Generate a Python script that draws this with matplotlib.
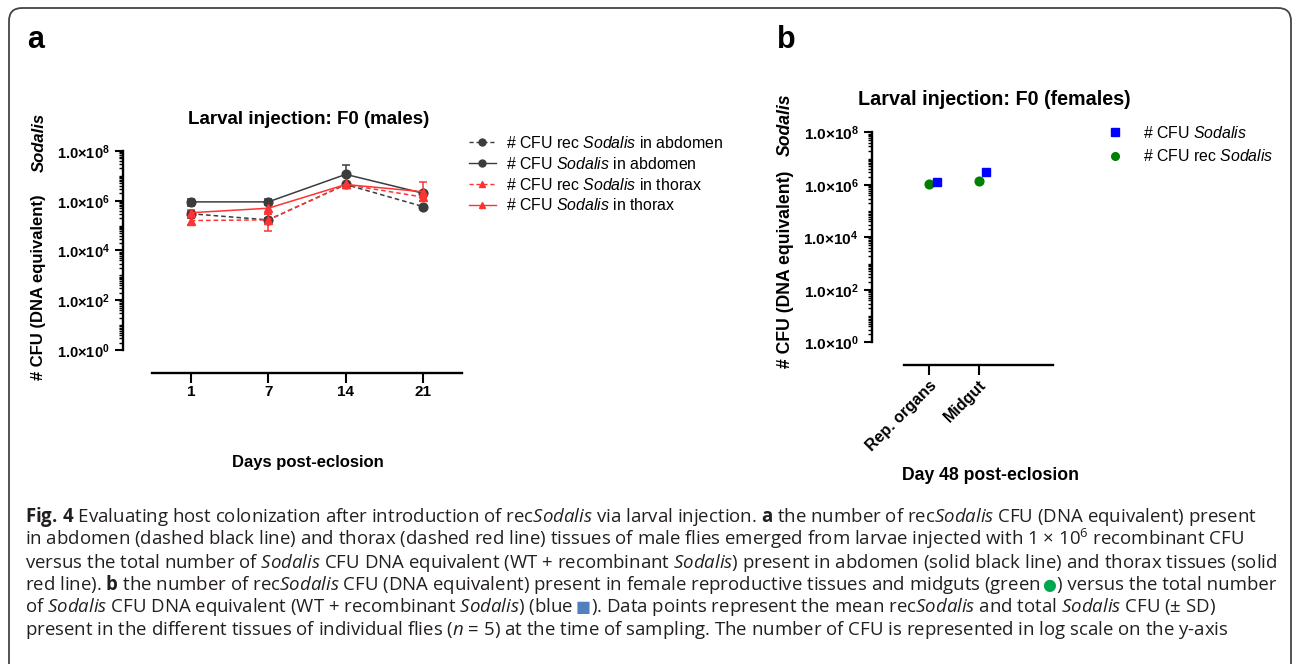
import matplotlib
matplotlib.use("Agg")
import matplotlib.pyplot as plt
import matplotlib.ticker as mticker
from matplotlib.lines import Line2D
from matplotlib.patches import FancyBboxPatch
from matplotlib.transforms import IdentityTransform
from matplotlib import font_manager

# panel a: males, CFU (DNA equivalent) per day post-eclosion
days = ["1", "7", "14", "21"]
rec_abd = [3.0e5, 1.7e5, 4.5e6, 5.8e5]
rec_abd_lo = [1.0e5, 4.0e4, 6.0e5, 6.0e4]
rec_abd_hi = [1.0e5, 4.0e4, 6.0e5, 6.0e4]
tot_abd = [9.0e5, 9.0e5, 1.15e7, 2.0e6]
tot_abd_lo = [3.0e5, 2.5e5, 0.0, 3.0e5]
tot_abd_hi = [3.0e5, 2.5e5, 1.5e7, 3.0e5]
rec_thx = [1.6e5, 1.7e5, 4.5e6, 1.4e6]
rec_thx_lo = [5.0e4, 1.1e5, 5.0e5, 4.0e5]
rec_thx_hi = [5.0e4, 1.1e5, 5.0e5, 4.0e5]
tot_thx = [3.3e5, 5.0e5, 4.5e6, 2.3e6]
tot_thx_lo = [1.0e5, 2.0e5, 7.0e5, 1.0e6]
tot_thx_hi = [1.0e5, 2.0e5, 7.0e5, 3.2e6]

# panel b: females, day 48
tissues = ["Rep. organs", "Midgut"]
tot_fem = [1.25e6, 3.2e6]
rec_fem = [1.07e6, 1.4e6]

yticks = [1e0, 1e2, 1e4, 1e6, 1e8]
ytick_labels = [r"$\mathbf{1.0×10^{%d}}$" % e for e in (0, 2, 4, 6, 8)]

W, H = 1292, 664
names = {f.name for f in font_manager.fontManager.ttflist}
cap_font = "Liberation Sans Narrow" if "Liberation Sans Narrow" in names else "Open Sans"
sans = "Liberation Sans"

plt.rcParams["font.family"] = [sans, "DejaVu Sans"]
plt.rcParams["mathtext.fontset"] = "custom"
plt.rcParams["mathtext.it"] = sans + ":italic"
plt.rcParams["mathtext.bf"] = sans + ":bold"
plt.rcParams["mathtext.rm"] = cap_font
plt.rcParams["mathtext.sf"] = cap_font + ":italic"
plt.rcParams["mathtext.tt"] = cap_font + ":bold"

BLACK = "#3c3c3c"
RED = "#ff3333"


def fx(x):
    return x / W


def fy(y):
    return 1 - y / H


fig = plt.figure(figsize=(W / 100, H / 100), dpi=100)

# outer frame
frame = FancyBboxPatch((9, -40), 1282, 656 + 40, boxstyle="round,pad=0,rounding_size=13",
                       transform=IdentityTransform(), fc="none", ec="#444444", lw=1.3)
fig.add_artist(frame)


def style_axes(ax, outward, scale=1.0):
    ax.set_yscale("log")
    for s in ["top", "right"]:
        ax.spines[s].set_visible(False)
    for s in ["left", "bottom"]:
        ax.spines[s].set_linewidth(1.7)
        ax.spines[s].set_color("black")
    ax.spines["left"].set_position(("outward", outward))
    ax.spines["left"].set_bounds(1, 1e8)
    ax.yaxis.set_major_locator(mticker.FixedLocator(yticks))
    ax.yaxis.set_minor_locator(mticker.FixedLocator(
        [k * 10.0 ** d for d in range(8) for k in range(1, 10) if k * 10.0 ** d <= 1e8]))
    ax.yaxis.set_minor_formatter(mticker.NullFormatter())
    ax.set_yticklabels(ytick_labels, fontsize=10.5 * scale)
    ax.tick_params(axis="y", which="major", length=6, width=1.5, pad=3.5)
    ax.tick_params(axis="y", which="minor", length=3, width=1.0)
    ax.tick_params(axis="x", which="major", length=7, width=1.5, pad=2)
    ax.set_facecolor("none")


# ---- panel a ----
ax_a = fig.add_axes([fx(152), fy(373), fx(310), (373 - 151) / H])
style_axes(ax_a, 21)
x_a = list(range(len(days)))
series = [
    (rec_abd, rec_abd_lo, rec_abd_hi, BLACK, (0, (3, 2)), "o"),
    (tot_abd, tot_abd_lo, tot_abd_hi, BLACK, "-", "o"),
    (rec_thx, rec_thx_lo, rec_thx_hi, RED, (0, (3, 2)), "^"),
    (tot_thx, tot_thx_lo, tot_thx_hi, RED, "-", "^"),
]
for vals, lo, hi, col, ls, mk in series:
    ax_a.errorbar(x_a, vals, yerr=[lo, hi], color=col, ls=ls, lw=1.1, marker=mk, ms=6.3,
                  capsize=3, elinewidth=1.1, capthick=1.1)
ax_a.set_xlim(-0.5, 3.5)
ax_a.set_ylim(10 ** -0.925, 1e8)
ax_a.set_xticks(x_a)
ax_a.set_xticklabels(days, fontsize=11, fontweight="bold")
ax_a.set_title("Larval injection: F0 (males)", fontsize=13.5, fontweight="bold",
               x=(309 - 152) / 310, y=(373 - 124) / (373 - 151), va="baseline", pad=0)

leg_a = [
    (BLACK, (0, (3, 2)), "o", "# CFU rec $\\mathit{Sodalis}$ in abdomen"),
    (BLACK, "-", "o", "# CFU $\\mathit{Sodalis}$ in abdomen"),
    (RED, (0, (3, 2)), "^", "# CFU rec $\\mathit{Sodalis}$ in thorax"),
    (RED, "-", "^", "# CFU $\\mathit{Sodalis}$ in thorax"),
]
handles = [Line2D([], [], color=c, ls=ls, marker=m, ms=5, lw=1.0) for c, ls, m, _ in leg_a]
fig.legend(handles, [l for *_, l in leg_a], loc="upper left",
           bbox_to_anchor=(fx(469), fy(135)), frameon=False, fontsize=11.4,
           handlelength=1.7, handletextpad=0.65, labelspacing=0.3,
           borderpad=0, borderaxespad=0, numpoints=1)

fig.text(fx(39), fy(287), "# CFU (DNA equivalent)", rotation=90, fontsize=12,
         fontweight="bold", ha="center", va="center")
fig.text(fx(39), fy(142), "Sodalis", rotation=90, fontsize=12, fontweight="bold",
         style="italic", ha="center", va="center")
fig.text(fx(308), fy(463), "Days post-eclosion", fontsize=12, fontweight="bold",
         ha="center", va="center")
fig.text(fx(27), fy(40), "a", fontsize=22, fontweight="bold", ha="left", va="center")

# ---- panel b ----
sb = 1.055
ax_b = fig.add_axes([fx(904), fy(365), fx(149), (365 - 132.3) / H])
style_axes(ax_b, 23, sb)
x_b = list(range(len(tissues)))
ax_b.plot(x_b, rec_fem, ls="none", marker="o", ms=6.3, color="#008000")
ax_b.plot([x + 0.16 for x in x_b], tot_fem, ls="none", marker="s", ms=6.3, color="#0000ff")
ax_b.set_xlim(-0.5, 2.5)
ax_b.set_ylim(10 ** -0.865, 1e8)
ax_b.set_xticks(x_b)
ax_b.set_xticklabels(tissues, fontsize=11.5, fontweight="bold", rotation=45,
                     ha="right", va="top", rotation_mode="anchor")
ax_b.set_title("Larval injection: F0 (females)", fontsize=13.5 * sb, fontweight="bold",
               x=(994 - 904) / 149, y=(365 - 105) / (365 - 132.3), va="baseline", pad=0)

leg_b = [
    ("#0000ff", "s", "# CFU $\\mathit{Sodalis}$"),
    ("#008000", "o", "# CFU rec $\\mathit{Sodalis}$"),
]
handles_b = [Line2D([], [], color=c, ls="none", marker=m, ms=5.5) for c, m, _ in leg_b]
fig.legend(handles_b, [l for *_, l in leg_b], loc="upper left",
           bbox_to_anchor=(fx(1107), fy(125)), frameon=False, fontsize=11.4,
           handlelength=1.0, handletextpad=1.25, labelspacing=0.45,
           borderpad=0, borderaxespad=0)

fig.text(fx(785), fy(269), "# CFU (DNA equivalent)", rotation=90, fontsize=12 * sb,
         fontweight="bold", ha="center", va="center")
fig.text(fx(785), fy(125), "Sodalis", rotation=90, fontsize=12 * sb, fontweight="bold",
         style="italic", ha="center", va="center")
fig.text(fx(990), fy(476), "Day 48 post-eclosion", fontsize=12 * sb, fontweight="bold",
         ha="center", va="center")
fig.text(fx(777), fy(40), "b", fontsize=22, fontweight="bold", ha="left", va="center")

# ---- caption ----
SOD = r"$\mathsf{Sodalis}$"
caption = [
    [(r"$\mathtt{Fig.\,4}$ Evaluating host colonization after introduction of rec" + SOD
      + r" via larval injection. $\mathtt{a}$ the number of rec" + SOD
      + " CFU (DNA equivalent) present", None)],
    [("in abdomen (dashed black line) and thorax (dashed red line) tissues of male flies "
      "emerged from larvae injected with 1 × 10$^{6}$ recombinant CFU", None)],
    [("versus the total number of " + SOD + " CFU DNA equivalent (WT + recombinant "
      + SOD + ") present in abdomen (solid black line) and thorax tissues (solid", None)],
    [(r"red line). $\mathtt{b}$ the number of rec" + SOD
      + " CFU (DNA equivalent) present in female reproductive tissues and midguts (green", None),
     ("●", "#00a650"), (") versus the total number", None)],
    [("of " + SOD + " CFU DNA equivalent (WT + recombinant " + SOD + ") (blue", None),
     ("■", "#4f81bd"), (r"). Data points represent the mean rec" + SOD + " and total "
                        + SOD + " CFU (± SD)", None)],
    [("present in the different tissues of individual flies ($\\mathsf{n}$ = 5) at the time of "
      "sampling. The number of CFU is represented in log scale on the y-axis", None)],
]
baselines = [522, 545, 567.5, 590, 612.5, 635]
line_ends = [1275, 1250, 1275, 1277, 1228, 1262]
x0 = 25
renderer = fig.canvas.get_renderer()


def draw_line(parts, yb, size):
    x = x0
    drawn = []
    for txt, col in parts:
        if col is None:
            t = fig.text(fx(x), fy(yb), txt, fontsize=size, family=cap_font,
                         color="#231f20", va="baseline", ha="left")
        else:
            t = fig.text(fx(x + 1), fy(yb), txt, fontsize=size * 0.85,
                         family="DejaVu Sans", color=col, va="baseline", ha="left")
        x = t.get_window_extent(renderer).x1 + 1
        drawn.append(t)
    return drawn, x


# size the caption so that no line runs past where it ends in the figure
ratios = []
for parts, yb, xe in zip(caption, baselines, line_ends):
    drawn, xend = draw_line(parts, yb, 12)
    ratios.append((xe - x0) / (xend - x0))
    for t in drawn:
        t.remove()
cap_size = 12 * min(ratios)

for parts, yb in zip(caption, baselines):
    draw_line(parts, yb, cap_size)

fig.savefig("out.png", dpi=100)
